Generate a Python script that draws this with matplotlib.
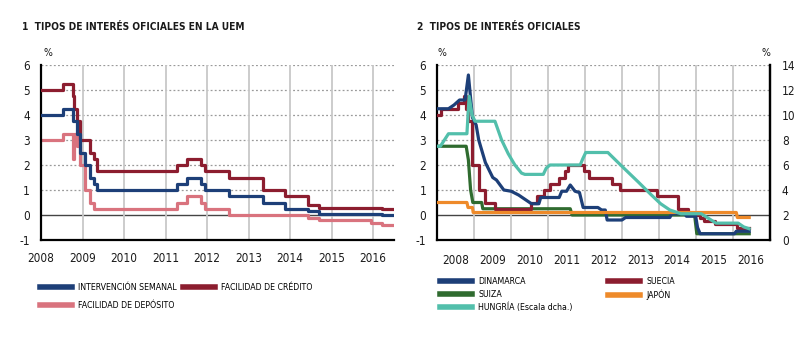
import matplotlib
matplotlib.use("Agg")
import matplotlib.pyplot as plt
from matplotlib import font_manager as fm
from matplotlib.legend import Legend

plt.rcParams["axes.unicode_minus"] = False


# ---------------------------------------------------------------- fonts: prefer a narrow sans if one is present
def _pick_narrow():
    best = None
    for f in fm.fontManager.ttflist:
        narrow = ("Narrow" in f.name or "Condensed" in f.name
                  or f.stretch in ("condensed", "semi-condensed", "extra-condensed"))
        if narrow and f.style == "normal":
            if best is None or "Liberation" in f.name:
                best = f
    return best


_narrow = _pick_narrow()
if _narrow is not None:
    FONT = _narrow.name
    STRETCH = _narrow.stretch
    SCALE = 1.0
else:
    FONT = "Liberation Sans"
    STRETCH = "normal"
    SCALE = 0.82
plt.rcParams["font.family"] = [FONT, "DejaVu Sans"]
plt.rcParams["font.stretch"] = STRETCH

# ---------------------------------------------------------------- data: panel 1 (euro area official rates, step series)
uem_dates = [2008.0, 2008.52, 2008.77, 2008.79, 2008.87, 2008.94, 2009.05, 2009.19,
             2009.27, 2009.36, 2011.28, 2011.53, 2011.86, 2011.95, 2012.53, 2013.35,
             2013.87, 2014.44, 2014.69, 2015.94, 2016.21, 2016.5]
intervencion = [4.00, 4.25, 3.75, 3.75, 3.25, 2.50, 2.00, 1.50, 1.25, 1.00, 1.25, 1.50,
                1.25, 1.00, 0.75, 0.50, 0.25, 0.15, 0.05, 0.05, 0.00, 0.00]
credito = [5.00, 5.25, 4.75, 4.25, 3.75, 3.00, 3.00, 2.50, 2.25, 1.75, 2.00, 2.25,
           2.00, 1.75, 1.50, 1.00, 0.75, 0.40, 0.30, 0.30, 0.25, 0.25]
deposito = [3.00, 3.25, 2.25, 3.25, 2.75, 2.00, 1.00, 0.50, 0.25, 0.25, 0.50, 0.75,
            0.50, 0.25, 0.00, 0.00, 0.00, -0.10, -0.20, -0.30, -0.40, -0.40]

# ---------------------------------------------------------------- data: panel 2 (other official rates)
dk_dates = [2008.0, 2008.3, 2008.45, 2008.6, 2008.75, 2008.84, 2008.95, 2009.05, 2009.12,
            2009.2, 2009.3, 2009.4, 2009.5, 2009.6, 2009.7, 2009.8, 2010.0, 2010.2,
            2010.4, 2010.55, 2010.75, 2010.8, 2011.3, 2011.37, 2011.5, 2011.6, 2011.73,
            2011.85, 2011.95, 2012.35, 2012.45, 2012.55, 2012.6, 2013.0, 2013.1, 2014.3,
            2014.35, 2014.7, 2014.75, 2015.0, 2015.05, 2015.12, 2016.05, 2016.1, 2016.45]
dinamarca = [4.25, 4.25, 4.4, 4.6, 4.6, 5.6, 3.9, 3.6, 3.0, 2.6, 2.1, 1.8, 1.5, 1.4,
             1.2, 1.0, 0.95, 0.8, 0.6, 0.45, 0.45, 0.7, 0.7, 0.95, 0.95, 1.2, 0.95,
             0.9, 0.3, 0.3, 0.2, 0.2, -0.2, -0.2, -0.1, -0.1, 0.05, 0.05, -0.05, -0.05,
             -0.5, -0.75, -0.75, -0.65, -0.65]

se_dates = [2008.0, 2008.1, 2008.55, 2008.72, 2008.77, 2008.83, 2008.95, 2009.12, 2009.3,
            2009.55, 2010.55, 2010.7, 2010.9, 2011.05, 2011.3, 2011.45, 2011.55, 2011.97,
            2012.12, 2012.72, 2012.96, 2013.96, 2014.52, 2014.8, 2015.12, 2015.22,
            2015.52, 2016.12, 2016.45]
suecia = [4.0, 4.25, 4.5, 4.75, 4.25, 3.75, 2.0, 1.0, 0.5, 0.25, 0.5, 0.75, 1.0, 1.25,
          1.5, 1.75, 2.0, 1.75, 1.5, 1.25, 1.0, 0.75, 0.25, 0.0, -0.1, -0.25, -0.35,
          -0.5, -0.5]

ch_dates = [2008.0, 2008.78, 2008.84, 2008.9, 2008.96, 2009.2, 2009.23, 2011.6, 2011.65,
            2014.97, 2015.03, 2016.45]
suiza = [2.75, 2.75, 2.2, 1.0, 0.5, 0.5, 0.25, 0.25, 0.0, 0.0, -0.75, -0.75]

jp_dates = [2008.0, 2008.8, 2008.83, 2008.95, 2008.97, 2016.1, 2016.13, 2016.45]
japon = [0.5, 0.5, 0.3, 0.3, 0.1, 0.1, -0.1, -0.1]

hu_dates = [2008.0, 2008.08, 2008.3, 2008.8, 2008.86, 2008.94, 2009.02, 2009.56, 2009.74,
            2009.92, 2010.1, 2010.28, 2010.37, 2010.87, 2010.95, 2011.05, 2011.87,
            2011.94, 2012.02, 2012.62, 2013.0, 2013.44, 2013.8, 2014.05, 2014.3, 2014.6,
            2015.15, 2015.55, 2016.15, 2016.3, 2016.45]
hungria = [7.5, 7.5, 8.5, 8.5, 11.5, 10.0, 9.5, 9.5, 8.0, 6.9, 6.0, 5.35, 5.25, 5.25,
           5.75, 6.0, 6.0, 6.5, 7.0, 7.0, 5.9, 4.65, 3.6, 2.9, 2.4, 2.1, 2.1, 1.35,
           1.35, 1.05, 0.9]

years = list(range(2008, 2017))

# ---------------------------------------------------------------- styling
NAVY = "#1d3f78"
GRANATE = "#8c1d2f"
ROSA = "#d9737e"
VERDE = "#2f6b2f"
NARANJA = "#ee8a2a"
TURQUESA = "#52bfab"
LW = 2.3
GRID_V = "#c8c8c8"
GRID_H = "#9a9a9a"
TXT = "#1a1a1a"
TICK_FS = 8.5 * SCALE
LEG_FS = 6.3 * SCALE
PCT_FS = 7.5 * SCALE
TITLE_FS = 7.3 * SCALE

W, H = 800, 337
fig = plt.figure(figsize=(W / 100, H / 100), dpi=100)


def frac(x0, y0, x1, y1):
    return [x0 / W, 1 - y1 / H, (x1 - x0) / W, (y1 - y0) / H]


def style_axes(ax, right_spine=False):
    for s in ("top", "right"):
        ax.spines[s].set_visible(False)
    if right_spine:
        ax.spines["right"].set_visible(True)
    for s in ("left", "bottom", "right"):
        ax.spines[s].set_color("black")
        ax.spines[s].set_linewidth(1.6)
    ax.set_ylim(-1, 6)
    ax.set_yticks(range(-1, 7))
    ax.tick_params(axis="both", which="both", length=0, labelsize=TICK_FS, colors=TXT)
    ax.tick_params(axis="y", pad=8)
    for yv in range(1, 7):
        ax.axhline(yv, color=GRID_H, lw=0.9, ls=(0, (1.5, 1.8)), zorder=1)
    ax.axhline(0, color="#444444", lw=1.0, zorder=1)
    for yr in years[1:]:
        ax.axvline(yr, color=GRID_V, lw=1.3, zorder=1)


def column_legend(ax, handles, x_px, y_px, spacing):
    # one legend column placed at a fixed pixel position below the panel
    leg = Legend(ax, handles, [h.get_label() for h in handles], loc="upper left",
                 bbox_to_anchor=(x_px / W, 1 - y_px / H),
                 bbox_transform=fig.transFigure, frameon=False, fontsize=LEG_FS,
                 handlelength=3.7, handletextpad=0.65, labelspacing=spacing,
                 borderaxespad=0, borderpad=0)
    for h in leg.get_lines():
        h.set_linewidth(4)
    ax.add_artist(leg)
    return leg


# ---------------------------------------------------------------- panel 1
ax1 = fig.add_axes(frac(41, 65, 393.75, 240))
style_axes(ax1)
ax1.set_xlim(2008, 2016.5)
ax1.set_xticks(years)
ax1.set_xticklabels([str(y) for y in years])
ax1.tick_params(axis="x", pad=9)
l_int, = ax1.plot(uem_dates, intervencion, drawstyle="steps-post", color=NAVY, lw=LW,
                  zorder=4, label="INTERVENCIÓN SEMANAL")
l_cre, = ax1.plot(uem_dates, credito, drawstyle="steps-post", color=GRANATE, lw=LW,
                  zorder=3, label="FACILIDAD DE CRÉDITO")
l_dep, = ax1.plot(uem_dates, deposito, drawstyle="steps-post", color=ROSA, lw=LW,
                  zorder=2, label="FACILIDAD DE DEPÓSITO")

fig.text(22 / W, 1 - 27 / H, "1  TIPOS DE INTERÉS OFICIALES EN LA UEM", fontsize=TITLE_FS,
         fontweight="bold", va="center", ha="left", color=TXT)
fig.text(43 / W, 1 - 53 / H, "%", fontsize=PCT_FS, va="center", ha="left", color=TXT)

column_legend(ax1, [l_int, l_dep], 40, 283.5, 0.95)
column_legend(ax1, [l_cre], 183, 283.5, 0.95)

# ---------------------------------------------------------------- panel 2
ax2 = fig.add_axes(frac(437.4, 65, 769.5, 240))
style_axes(ax2, right_spine=True)
ax2.set_xlim(2008, 2017)
ax2.set_xticks(years)
ax2.set_xticklabels([])
ax2.set_xticks([y + 0.5 for y in years], minor=True)
ax2.set_xticklabels([str(y) for y in years], minor=True)
ax2.tick_params(axis="x", which="minor", pad=10)

axr = ax2.twinx()
axr.set_ylim(0, 14)
axr.set_yticks(range(0, 15, 2))
for s in ("top", "left", "bottom"):
    axr.spines[s].set_visible(False)
axr.spines["right"].set_color("black")
axr.spines["right"].set_linewidth(1.6)
axr.tick_params(axis="y", length=0, labelsize=TICK_FS, colors=TXT, pad=9)

l_dk, = ax2.plot(dk_dates, dinamarca, color=NAVY, lw=LW, zorder=5, label="DINAMARCA")
l_se, = ax2.plot(se_dates, suecia, drawstyle="steps-post", color=GRANATE, lw=LW,
                 zorder=4, label="SUECIA")
l_ch, = ax2.plot(ch_dates, suiza, color=VERDE, lw=LW, zorder=3, label="SUIZA")
l_jp, = ax2.plot(jp_dates, japon, color=NARANJA, lw=LW, zorder=6, label="JAPÓN")
l_hu, = axr.plot(hu_dates, hungria, color=TURQUESA, lw=LW, zorder=7,
                 label="HUNGRÍA (Escala dcha.)")
ax2.set_zorder(axr.get_zorder() - 1)
ax2.patch.set_visible(False)
axr.patch.set_visible(False)

fig.text(417 / W, 1 - 27 / H, "2  TIPOS DE INTERÉS OFICIALES", fontsize=TITLE_FS,
         fontweight="bold", va="center", ha="left", color=TXT)
fig.text(437 / W, 1 - 53 / H, "%", fontsize=PCT_FS, va="center", ha="left", color=TXT)
fig.text(770 / W, 1 - 53 / H, "%", fontsize=PCT_FS, va="center", ha="right", color=TXT)

column_legend(axr, [l_dk, l_ch, l_hu], 440, 277, 0.42)
column_legend(axr, [l_se, l_jp], 608, 277, 0.42)

fig.savefig("out.png", dpi=100)
